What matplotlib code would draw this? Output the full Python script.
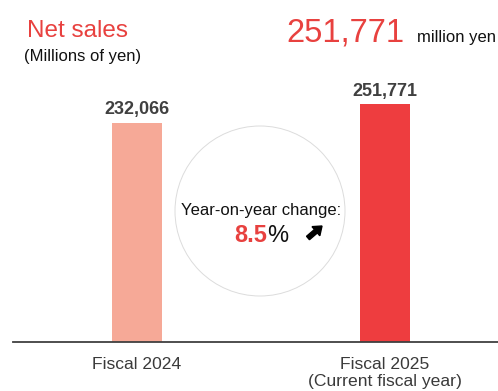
import matplotlib.pyplot as plt
from matplotlib.patches import Circle, FancyArrow

plt.rcParams['font.family'] = ['Liberation Sans', 'DejaVu Sans']

# net sales, millions of yen
years = ['Fiscal 2024', 'Fiscal 2025\n(Current fiscal year)']
sales = [232066, 251771]
yoy_change = 8.5

bar_colors = ['#f6a997', '#ee3d3f']
red = '#e8413f'
dark = '#404040'

W, H = 498, 391
fig = plt.figure(figsize=(W / 100, H / 100), dpi=100)


def fx(x):
    return x / W


def fy(y):
    return 1 - y / H


# bar axes: baseline at 342 px, left edge at 13 px
ax = fig.add_axes([fx(13), fy(342), fx(498 - 13), (342 - 20) / H])
ax.bar([0, 1], sales, width=0.2, color=bar_colors, zorder=2)
ax.set_xlim(-0.5, 1.456)
px_per_unit = 238 / sales[1]
ax.set_ylim(0, 322 / px_per_unit)
for s in ['top', 'right', 'left']:
    ax.spines[s].set_visible(False)
ax.spines['bottom'].set_color(dark)
ax.spines['bottom'].set_linewidth(1.3)
ax.set_yticks([])
ax.set_xticks([0, 1])
ax.set_xticklabels(years, fontsize=12.6, color='#3a3a3a', linespacing=1.15, va='top')
ax.tick_params(axis='x', length=0, pad=11)

for i, v in enumerate(sales):
    ax.annotate(f'{v:,}', (i, v), xytext=(0, 3), textcoords='offset points',
                ha='center', va='bottom', fontsize=13, fontweight='bold', color=dark)

# year-on-year circle (inch units, origin bottom-left)
circ = Circle((2.60, (H - 211) / 100), 0.85, transform=fig.dpi_scale_trans,
              fill=False, edgecolor='#dcdcdc', linewidth=0.7)
fig.patches.append(circ)

fig.text(fx(261), fy(211), 'Year-on-year change:', ha='center', va='center',
         fontsize=12, color='#111111')
fig.text(fx(267), fy(236), f'{yoy_change}', ha='right', va='center',
         fontsize=17, fontweight='bold', color=red)
fig.text(fx(267), fy(236), '%', ha='left', va='center', fontsize=17, color='#111111')
arrow = FancyArrow(3.08, (H - 238) / 100, 0.14, 0.12, width=0.045,
                   head_width=0.12, head_length=0.08, color='black',
                   transform=fig.dpi_scale_trans, length_includes_head=True)
fig.patches.append(arrow)

# headings
fig.text(fx(27), fy(31), 'Net sales', ha='left', va='center', fontsize=17.5, color=red)
fig.text(fx(24), fy(57), '(Millions of yen)', ha='left', va='center', fontsize=12, color='#111111')
fig.text(fx(404), fy(42), f'{sales[1]:,}', ha='right', va='baseline', fontsize=23.5, color=red)
fig.text(fx(417), fy(42), 'million yen', ha='left', va='baseline', fontsize=12, color='#111111')

fig.savefig('out.png', dpi=100)
